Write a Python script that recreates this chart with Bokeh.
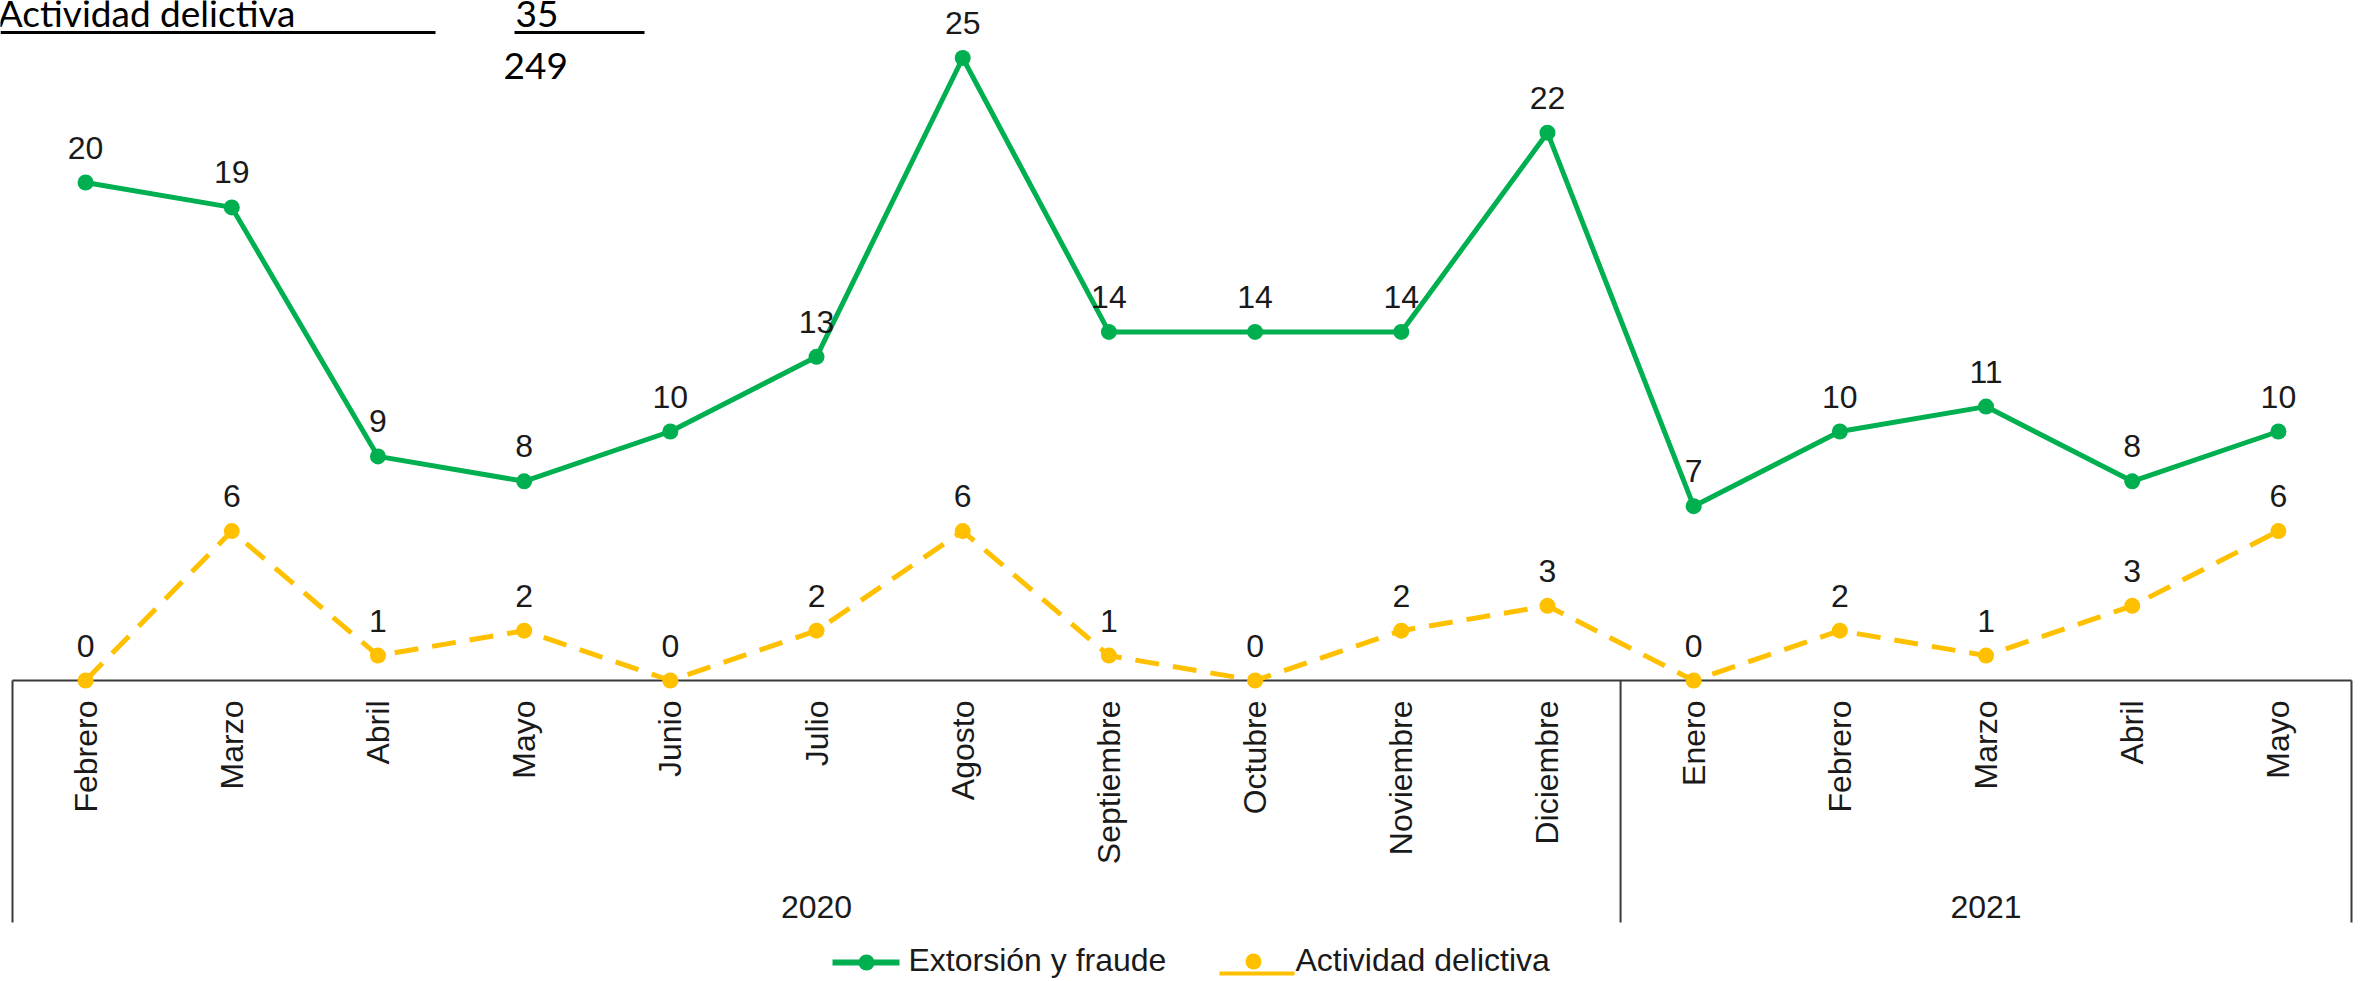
import math
from bokeh.plotting import figure
from bokeh.models import FactorRange, Range1d, ColumnDataSource
from bokeh.embed import file_html
from bokeh.resources import INLINE
from bokeh.core.properties import value

# ---------------- data ----------------
years = ["2020", "2021"]
months_2020 = ["Febrero", "Marzo", "Abril", "Mayo", "Junio", "Julio", "Agosto",
               "Septiembre", "Octubre", "Noviembre", "Diciembre"]
months_2021 = ["Enero", "Febrero", "Marzo", "Abril", "Mayo"]
extorsion = [20, 19, 9, 8, 10, 13, 25, 14, 14, 14, 22, 7, 10, 11, 8, 10]
actividad = [0, 6, 1, 2, 0, 2, 6, 1, 0, 2, 3, 0, 2, 1, 3, 6]
series_names = ["Extorsión y fraude", "Actividad delictiva"]
header_label = "Actividad delictiva"
header_values = ["35", "249"]

factors = [(years[0], m) for m in months_2020] + [(years[1], m) for m in months_2021]
n = len(factors)

# ---------------- layout helpers (page pixels -> data) ----------------
W, H = 2363, 981
PAGE = 0
LEFT = 12                     # page x where the category axis starts
scale_x = (W - 2 * LEFT) / n
pad = LEFT / scale_x
Y0 = 680                      # page y of value 0
PXU = 24.9                    # pixels per unit

def xc(px):
    return (px - PAGE) / scale_x - pad

def yc(py):
    return (Y0 - py) / PXU

GREEN = "#00B050"
YELLOW = "#FFC000"
TXT = "#1a1a1a"
AX = "#3a3a3a"
FONT = value("Liberation Sans")

p = figure(
    x_range=FactorRange(*factors, range_padding=pad, range_padding_units="absolute",
                        group_padding=0, subgroup_padding=0, factor_padding=0),
    y_range=Range1d(yc(PAGE + H), yc(PAGE)),
    width=W, height=H, output_backend="svg", toolbar_location=None,
    x_axis_location=None, y_axis_location=None, min_border=0,
    outline_line_color=None,
)
p.grid.visible = False
p.background_fill_color = "white"
p.border_fill_color = "white"

# ---------------- category axis (drawn with the factor scale) ----------------
p.segment(x0=[0], y0=[0], x1=[n], y1=[0], line_color=AX, line_width=2)
bounds = [0, len(months_2020), n]
p.segment(x0=bounds, y0=[0] * 3, x1=bounds, y1=[yc(922)] * 3, line_color=AX, line_width=2)

p.text(x=factors, y=[yc(700)] * n, text=months_2020 + months_2021,
       angle=math.pi / 2, text_align="right", text_baseline="middle",
       text_font=FONT, text_font_size="32px", text_color=TXT)
p.text(x=years, y=[yc(906)] * 2, text=years, text_align="center",
       text_baseline="middle", text_font=FONT, text_font_size="32px", text_color=TXT)

# ---------------- series ----------------
lab_off = 35 / PXU
src1 = ColumnDataSource(dict(x=factors, y=extorsion,
                             ly=[v + lab_off for v in extorsion],
                             t=[str(v) for v in extorsion]))
src2 = ColumnDataSource(dict(x=factors, y=actividad,
                             ly=[v + lab_off for v in actividad],
                             t=[str(v) for v in actividad]))

p.line("x", "y", source=src2, line_color=YELLOW, line_width=5, line_dash="24 14")
p.scatter("x", "y", source=src2, marker="circle", size=16, fill_color=YELLOW, line_color=None)
p.line("x", "y", source=src1, line_color=GREEN, line_width=5)
p.scatter("x", "y", source=src1, marker="circle", size=16, fill_color=GREEN, line_color=None)

for src in (src1, src2):
    p.text("x", "ly", text="t", source=src, text_align="center", text_baseline="middle",
           text_font=FONT, text_font_size="32px", text_color=TXT)

# ---------------- legend (manual, as in the source) ----------------
p.segment(x0=[xc(832)], y0=[yc(962)], x1=[xc(899)], y1=[yc(962)], line_color=GREEN, line_width=6)
p.scatter(x=[xc(866)], y=[yc(962)], marker="circle", size=16, fill_color=GREEN, line_color=None)
p.text(x=[xc(908)], y=[yc(959)], text=[series_names[0]], text_align="left", text_baseline="middle",
       text_font=FONT, text_font_size="32px", text_color=TXT)
p.segment(x0=[xc(1219)], y0=[yc(973)], x1=[xc(1294)], y1=[yc(973)], line_color=YELLOW, line_width=4)
p.scatter(x=[xc(1253)], y=[yc(961)], marker="circle", size=16, fill_color=YELLOW, line_color=None)
p.text(x=[xc(1295)], y=[yc(959)], text=[series_names[1]], text_align="left", text_baseline="middle",
       text_font=FONT, text_font_size="32px", text_color=TXT)

# ---------------- spreadsheet remnants at the top ----------------
HFONT = value("Lato")
p.text(x=[xc(295)], y=[yc(12)], text=[header_label], text_align="right", text_baseline="middle",
       text_font=HFONT, text_font_size="37px", text_color="#000000")
p.segment(x0=[xc(0)], y0=[yc(32)], x1=[xc(435)], y1=[yc(32)], line_color="#000000", line_width=3)
p.text(x=[xc(515)], y=[yc(13)], text=[header_values[0]], text_align="left", text_baseline="middle",
       text_font=HFONT, text_font_size="37px", text_color="#000000")
p.segment(x0=[xc(514)], y0=[yc(32)], x1=[xc(644)], y1=[yc(32)], line_color="#000000", line_width=3)
p.text(x=[xc(503)], y=[yc(65)], text=[header_values[1]], text_align="left", text_baseline="middle",
       text_font=HFONT, text_font_size="37px", text_color="#000000")

open("out.html", "w").write(file_html(p, INLINE))
